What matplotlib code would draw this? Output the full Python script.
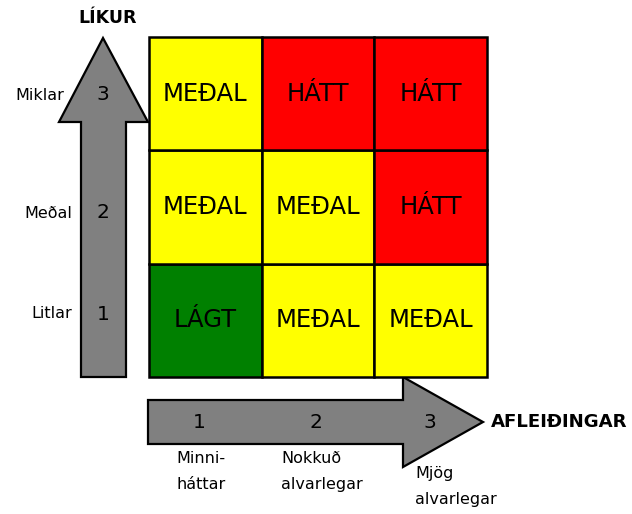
import matplotlib
matplotlib.use("Agg")
import matplotlib.pyplot as plt
from matplotlib.patches import Rectangle, Polygon

# ---- data ----
likelihood_levels = [1, 2, 3]
likelihood_labels = ["Litlar", "Meðal", "Miklar"]
consequence_levels = [1, 2, 3]
consequence_labels = ["Minni-\nháttar", "Nokkuð\nalvarlegar", "Mjög\nalvarlegar"]
# rows from bottom (likelihood 1) to top (likelihood 3)
risk_matrix = [
    ["LÁGT", "MEÐAL", "MEÐAL"],
    ["MEÐAL", "MEÐAL", "HÁTT"],
    ["MEÐAL", "HÁTT", "HÁTT"],
]
risk_colors = {"LÁGT": "#008000", "MEÐAL": "#FFFF00", "HÁTT": "#FF0000"}
y_title = "LÍKUR"
x_title = "AFLEIÐINGAR"

W, H = 632, 514
fig = plt.figure(figsize=(W / 100, H / 100), dpi=100)
plt.rcParams['font.family'] = ['DejaVu Sans']

# overlay axes in pixel coordinates for arrows and labels
ov = fig.add_axes([0, 0, 1, 1])
ov.set_xlim(0, W)
ov.set_ylim(H, 0)
ov.axis("off")

gray = "#808080"
# vertical arrow
v_arrow = [(81, 377), (126, 377), (126, 122), (148, 122), (103, 38), (59, 122), (81, 122)]
ov.add_patch(Polygon(v_arrow, closed=True, facecolor=gray, edgecolor="black", lw=1.6, zorder=1))
# horizontal arrow
h_arrow = [(148, 400), (403, 400), (403, 377), (483, 422), (403, 467), (403, 444), (148, 444)]
ov.add_patch(Polygon(h_arrow, closed=True, facecolor=gray, edgecolor="black", lw=1.6, zorder=1))

# grid axes
gx0, gy0, gx1, gy1 = 149, 37, 487, 377
gax = fig.add_axes([gx0 / W, (H - gy1) / H, (gx1 - gx0) / W, (gy1 - gy0) / H])
gax.set_xlim(0.5, 3.5)
gax.set_ylim(0.5, 3.5)
gax.axis("off")
for r, lev_y in enumerate(likelihood_levels):
    for c, lev_x in enumerate(consequence_levels):
        label = risk_matrix[r][c]
        gax.add_patch(Rectangle((lev_x - 0.5, lev_y - 0.5), 1, 1,
                                facecolor=risk_colors[label], edgecolor="black",
                                lw=1.8, clip_on=False))
        gax.text(lev_x, lev_y, label, ha="center", va="center", fontsize=17.5,
                 color="black")

# vertical axis numbers and labels
row_y_num = {1: 314, 2: 212, 3: 94}
row_y_lab = {1: 313, 2: 214, 3: 96}
row_x_lab = {1: 72, 2: 72, 3: 64}
for lev, lab in zip(likelihood_levels, likelihood_labels):
    ov.text(103, row_y_num[lev], str(lev), ha="center", va="center", fontsize=14.5)
    ov.text(row_x_lab[lev], row_y_lab[lev], lab, ha="right", va="center", fontsize=11.5)
ov.text(108, 18, y_title, ha="center", va="center", fontsize=12.5, fontweight="bold")

# horizontal axis numbers and labels
col_x_num = {1: 199, 2: 316, 3: 430}
col_lab_pos = {1: (176, 451), 2: (281, 451), 3: (415, 466)}
for lev, lab in zip(consequence_levels, consequence_labels):
    ov.text(col_x_num[lev], 422, str(lev), ha="center", va="center", fontsize=14.5)
    x, y = col_lab_pos[lev]
    ov.text(x, y, lab, ha="left", va="top", fontsize=11.5, linespacing=1.95)
ov.text(491, 422, x_title, ha="left", va="center", fontsize=13.1, fontweight="bold")

fig.savefig("out.png", dpi=100)
